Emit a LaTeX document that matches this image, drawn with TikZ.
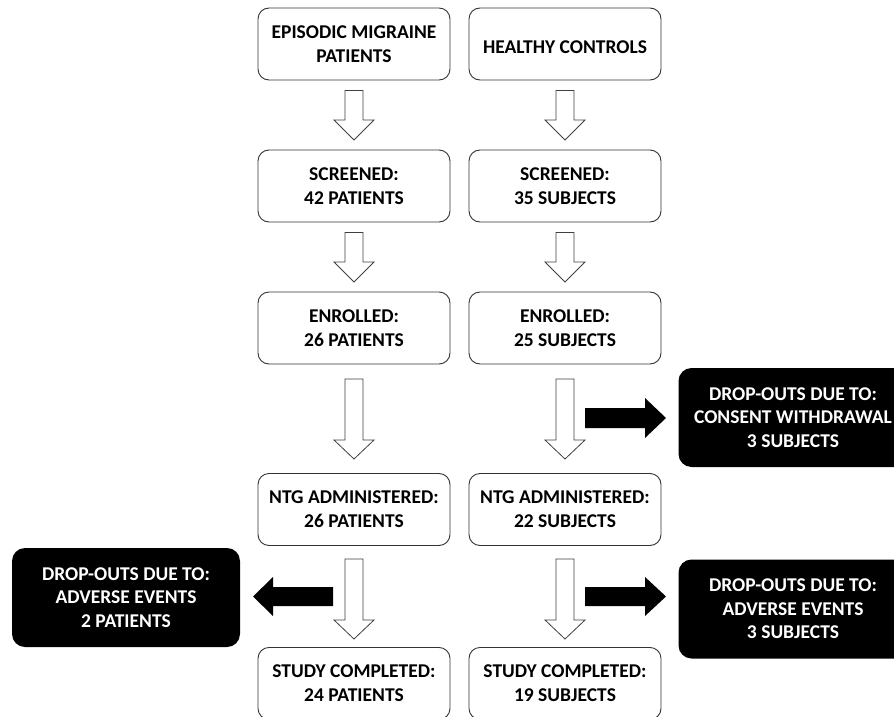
\documentclass[tikz,border=0pt]{standalone}
\usepackage{fontspec}
\setmainfont{Carlito}
\usetikzlibrary{calc}
\begin{document}
\begin{tikzpicture}[x=1pt,y=-1pt,
  wbox/.style={draw=black!80,line width=0.9pt,rounded corners=11pt,fill=white,
    minimum width=192pt,minimum height=72pt,inner sep=0pt,align=center,
    font=\fontsize{19.5}{24}\selectfont\bfseries},
  bbox/.style={fill=black,rounded corners=13pt,text=white,
    minimum width=229pt,minimum height=99pt,inner sep=0pt,align=center,
    font=\fontsize{19.5}{23.5}\selectfont\bfseries},
  harrow/.style={draw=black!75,line width=0.8pt,fill=white},
  barrow/.style={fill=black}]
\useasboundingbox (0,0) rectangle (894,717);
% left column
\node[wbox] (l1) at (354,44) {EPISODIC MIGRAINE\\PATIENTS};
\node[wbox] (l2) at (354,186) {SCREENED:\\42 PATIENTS};
\node[wbox] (l3) at (354,328) {ENROLLED:\\26 PATIENTS};
\node[wbox] (l4) at (354,509.5) {NTG ADMINISTERED:\\26 PATIENTS};
\node[wbox,anchor=north] (l5) at (354,647) {STUDY COMPLETED:\\24 PATIENTS};
% right column
\node[wbox,text height=20pt,text depth=0pt] (r1) at (565,44) {HEALTHY CONTROLS};
\node[wbox] (r2) at (565,186) {SCREENED:\\35 SUBJECTS};
\node[wbox] (r3) at (565,328) {ENROLLED:\\25 SUBJECTS};
\node[wbox] (r4) at (565,509.5) {NTG ADMINISTERED:\\22 SUBJECTS};
\node[wbox,anchor=north] (r5) at (565,647) {STUDY COMPLETED:\\19 SUBJECTS};
% drop-out boxes
\node[bbox] (d1) at (793,417.5) {DROP-OUTS DUE TO:\\CONSENT WITHDRAWAL\\3 SUBJECTS};
\node[bbox] (d2) at (793,609) {DROP-OUTS DUE TO:\\ADVERSE EVENTS\\3 SUBJECTS};
\node[bbox,minimum width=228pt] (d3) at (126,597.5) {DROP-OUTS DUE TO:\\ADVERSE EVENTS\\2 PATIENTS};
% hollow down arrows (centre x / shaft top / head start / tip)
\foreach \cx/\a/\b/\c in {354/90.5/120/140, 565/90.5/120/140,
                           354/232.5/262/282, 565/232.5/262/282,
                           354/379/440/459, 565/379/440/459,
                           354/559/620/639, 565/559/620/639}{
  \draw[harrow] (\cx-9,\a) -- (\cx+9,\a) -- (\cx+9,\b) -- (\cx+20,\b) -- (\cx,\c)
     -- (\cx-20,\b) -- (\cx-9,\b) -- cycle;
}
% black arrows
\fill[barrow] (585,408) -- (645,408) -- (645,398) -- (666,418) -- (645,438) -- (645,428) -- (585,428) -- cycle;
\fill[barrow] (585,587) -- (645,587) -- (645,577) -- (666,596.5) -- (645,616) -- (645,606) -- (585,606) -- cycle;
\fill[barrow] (333,587) -- (273,587) -- (273,577) -- (253,596.5) -- (273,616) -- (273,606) -- (333,606) -- cycle;
\end{tikzpicture}
\end{document}
